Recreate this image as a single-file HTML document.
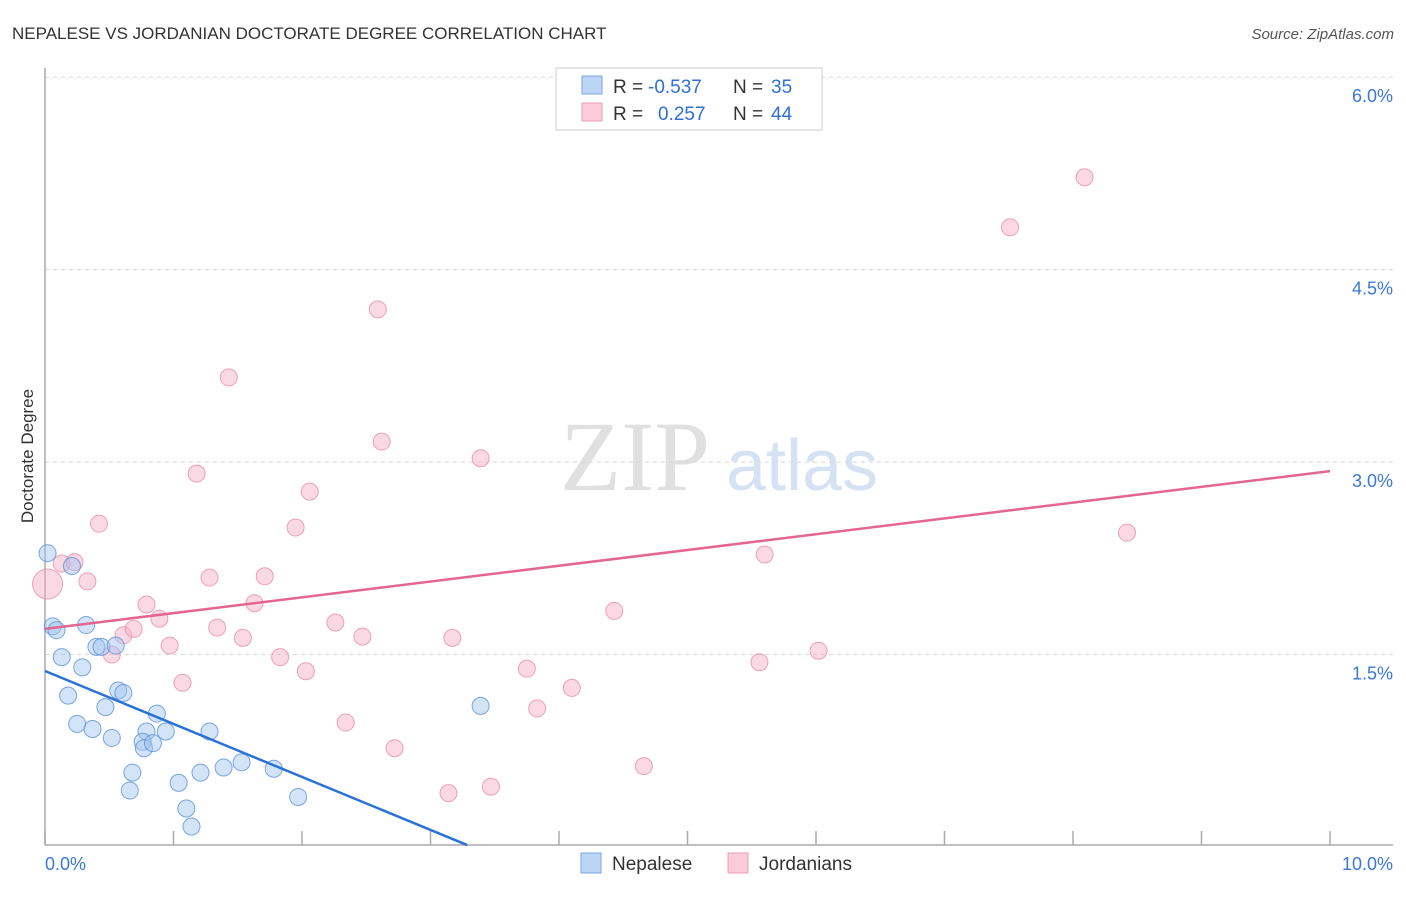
<!DOCTYPE html>
<html><head><meta charset="utf-8"><style>
body{margin:0;background:#fff;font-family:"Liberation Sans",sans-serif;}
svg text{font-family:"Liberation Sans",sans-serif;}
</style></head><body>
<svg id="chart" width="1406" height="892" viewBox="0 0 1406 892">
<text x="12" y="39" font-size="17" fill="#333">NEPALESE VS JORDANIAN DOCTORATE DEGREE CORRELATION CHART</text>
<text x="1394" y="39" font-size="15" fill="#555" font-style="italic" text-anchor="end">Source: ZipAtlas.com</text>
<text x="0" y="0" transform="translate(33,456) rotate(-90)" font-size="17" fill="#333" text-anchor="middle">Doctorate Degree</text>
<g>
<text x="635" y="490" font-size="100" fill="#e0e0e0" text-anchor="middle" style="font-family:'Liberation Serif',serif">ZIP</text>
<text x="802" y="490" font-size="72" fill="#d4e2f4" text-anchor="middle">atlas</text>
</g>
<g id="grid"></g>
<g id="axes"></g>
<g id="pts"></g>
<g id="trend"></g>
<g>
<rect x="556" y="68" width="266" height="62" fill="#fff" stroke="#ccc"/>
<rect x="582" y="76" width="20" height="18" fill="#bcd5f5" stroke="#7aa6e0"/>
<rect x="582" y="103" width="20" height="18" fill="#fbcbd9" stroke="#ec9db8"/>
<text x="613" y="93" font-size="19" fill="#333">R =</text>
<text x="648" y="93" font-size="19" fill="#2f6fd6">-0.537</text>
<text x="733" y="93" font-size="19" fill="#333">N =</text>
<text x="771" y="93" font-size="19" fill="#2f6fd6">35</text>
<text x="613" y="120" font-size="19" fill="#333">R =</text>
<text x="658" y="120" font-size="19" fill="#2f6fd6">0.257</text>
<text x="733" y="120" font-size="19" fill="#333">N =</text>
<text x="771" y="120" font-size="19" fill="#2f6fd6">44</text>
</g>
<g>
<rect x="581" y="853" width="20" height="20" fill="#bcd5f5" stroke="#7aa6e0"/>
<text x="612" y="870" font-size="19" fill="#333">Nepalese</text>
<rect x="728" y="853" width="20" height="20" fill="#fbcbd9" stroke="#ec9db8"/>
<text x="759" y="870" font-size="19" fill="#333">Jordanians</text>
</g>
</svg>
<script>
const yTicks=[1.5,3.0,4.5,6.0];
const yTickLabels=["1.5%","3.0%","4.5%","6.0%"];
const xTickLabels=["0.0%","10.0%"];
const nepX=[0.02,0.21,0.06,0.09,0.32,0.13,0.29,0.40,0.44,0.55,0.18,0.57,0.61,0.47,0.25,0.37,0.52,0.87,0.79,0.94,1.28,0.76,0.77,0.84,0.68,0.66,1.04,1.21,1.39,1.53,1.78,1.97,1.10,1.14,3.39];
const nepY=[2.29,2.19,1.72,1.69,1.73,1.48,1.40,1.56,1.56,1.57,1.18,1.22,1.20,1.09,0.96,0.92,0.85,1.04,0.90,0.90,0.90,0.82,0.77,0.81,0.58,0.44,0.50,0.58,0.62,0.66,0.61,0.39,0.30,0.16,1.10];
const jorX=[0.02,0.13,0.23,0.33,0.42,0.52,0.61,0.69,0.79,0.89,0.97,1.07,1.18,1.28,1.34,1.43,1.54,1.63,1.71,1.83,1.95,2.03,2.06,2.26,2.34,2.47,2.59,2.62,2.72,3.14,3.17,3.39,3.47,3.75,3.83,4.10,4.43,4.66,5.56,5.60,6.02,7.51,8.09,8.42];
const jorY=[2.05,2.21,2.22,2.07,2.52,1.50,1.65,1.70,1.89,1.78,1.57,1.28,2.91,2.10,1.71,3.66,1.63,1.90,2.11,1.48,2.49,1.37,2.77,1.75,0.97,1.64,4.19,3.16,0.77,0.42,1.63,3.03,0.47,1.39,1.08,1.24,1.84,0.63,1.44,2.28,1.53,4.83,5.22,2.45];
const jorR=[15,8.5,8.5,8.5,8.5,8.5,8.5,8.5,8.5,8.5,8.5,8.5,8.5,8.5,8.5,8.5,8.5,8.5,8.5,8.5,8.5,8.5,8.5,8.5,8.5,8.5,8.5,8.5,8.5,8.5,8.5,8.5,8.5,8.5,8.5,8.5,8.5,8.5,8.5,8.5,8.5,8.5,8.5,8.5];
const nepTrend=[1.372,-0.413];
const jorTrend=[1.70,2.93];
const NS="http://www.w3.org/2000/svg";
const X=v=>45+v*128.5, Y=v=>847-v*128.3;
function mk(p,t,a){const e=document.createElementNS(NS,t);for(const k in a)e.setAttribute(k,a[k]);p.appendChild(e);return e;}
const grid=document.getElementById('grid'),axes=document.getElementById('axes'),pts=document.getElementById('pts'),trend=document.getElementById('trend');
yTicks.forEach((t,i)=>{
 const l=mk(grid,'line',{x1:45,x2:1393,y1:Y(t),y2:Y(t),stroke:'#d8d8d8','stroke-dasharray':'4,4'});
 
 
 const tx=mk(grid,'text',{x:1393,y:Y(t)+25,'font-size':18,fill:'#3a78d8','text-anchor':'end'});
 tx.textContent=yTickLabels[i];
 
 
});
const ax=mk(axes,'line',{x1:45,x2:45,y1:68,y2:845,stroke:'#aaa','stroke-width':1.5});


const bx=mk(axes,'line',{x1:45,x2:1393,y1:845,y2:845,stroke:'#aaa','stroke-width':1.5});


for(let i=0;i<=10;i++){
 const t=mk(axes,'line',{x1:X(i),x2:X(i),y1:831,y2:845,stroke:'#aaa','stroke-width':1.5});
 
 
}
[[0,'start',45],[10,'end',1393]].forEach((d,i)=>{
 const t=mk(axes,'text',{x:d[2],y:870,'font-size':18,fill:'#3a78d8','text-anchor':d[1]});
 t.textContent=xTickLabels[i];
 
 
});
jorX.forEach((x,i)=>{
 const c=mk(pts,'circle',{cx:X(x),cy:Y(jorY[i]),r:jorR[i],fill:'rgba(245,170,195,0.45)',stroke:'rgba(232,140,172,0.8)','stroke-width':1});
 
 
});
nepX.forEach((x,i)=>{
 const c=mk(pts,'circle',{cx:X(x),cy:Y(nepY[i]),r:8.5,fill:'rgba(160,195,240,0.45)',stroke:'rgba(90,145,220,0.8)','stroke-width':1});
 
 
});
const xEnd=(0.015-nepTrend[0])/nepTrend[1];
const l1=mk(trend,'line',{x1:X(0),y1:Y(nepTrend[0]),x2:X(xEnd),y2:Y(nepTrend[0]+nepTrend[1]*xEnd),stroke:'#2a72d6','stroke-width':2.5});


const l2=mk(trend,'line',{x1:X(0),y1:Y(jorTrend[0]),x2:X(10),y2:Y(jorTrend[1]),stroke:'#e4668f','stroke-width':2.5});


</script>
</body></html>
